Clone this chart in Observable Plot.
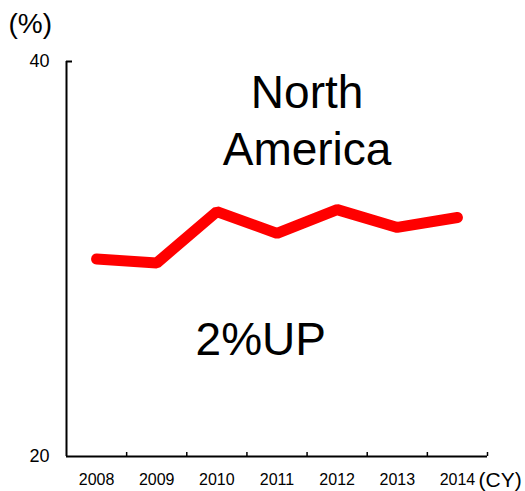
<!DOCTYPE html>
<html>
<head>
<meta charset="utf-8">
<script src="https://cdn.jsdelivr.net/npm/d3@7"></script>
<script src="https://cdn.jsdelivr.net/npm/@observablehq/plot@0.6"></script>
<style>
  html, body { margin: 0; padding: 0; background: #fff; }
  #chart svg { display: block; }
</style>
</head>
<body>
<div id="chart"></div>
<script>
// Calendar years and the regional share (%) for each
const years = [2008, 2009, 2010, 2011, 2012, 2013, 2014];
const share = [30.0, 29.8, 32.4, 31.3, 32.5, 31.6, 32.1];
const yTicks = [20, 40];
const regionLabel = "North\nAmerica";
const changeLabel = "2%UP";
const yUnit = "(%)";
const xUnit = "(CY)";

const rows = years.map((year, i) => ({year, share: share[i]}));
// Category separators sit halfway between the years
const separators = years.map(y => y + 0.5);

const font = "'Liberation Sans', Arial, sans-serif";

const chart = Plot.plot({
  width: 525,
  height: 491,
  marginLeft: 66,
  marginRight: 38,
  marginTop: 61,
  marginBottom: 35,
  style: {fontFamily: font, color: "#000", background: "#fff"},
  x: {domain: [years[0] - 0.5, years[years.length - 1] + 0.5]},
  y: {domain: [yTicks[0], yTicks[1]]},
  marks: [
    // Year labels under the axis
    Plot.axisX({ticks: years, tickFormat: d => String(d), tickSize: 0, tickPadding: 17, fontSize: 16, label: null}),
    // Upward ticks between the years
    Plot.axisX({ticks: separators, tickSize: -4, text: null, label: null, strokeWidth: 1.5}),
    Plot.axisY({ticks: yTicks, tickSize: 0, tickPadding: 17, fontSize: 18, label: null}),
    Plot.axisY({ticks: [yTicks[1]], tickSize: -6, text: null, label: null, strokeWidth: 2}),
    Plot.ruleX([years[0] - 0.5], {strokeWidth: 2}),
    Plot.ruleY([yTicks[0]], {strokeWidth: 2}),
    Plot.line(rows, {
      x: "year", y: "share",
      stroke: "#ff0000", strokeWidth: 11,
      strokeLinecap: "round", strokeLinejoin: "miter"
    }),
    Plot.text([regionLabel], {
      x: 2011.5, y: 39.72, text: d => d,
      fontSize: 46, lineHeight: 1.25, lineAnchor: "top", textAnchor: "middle", fill: "#000"
    }),
    Plot.text([changeLabel], {
      x: 2010.73, y: 26.8, text: d => d,
      fontSize: 46, lineAnchor: "top", textAnchor: "middle", fill: "#000"
    }),
    Plot.text([yUnit], {
      frameAnchor: "top-left", text: d => d, dx: -58, dy: -37,
      fontSize: 28, textAnchor: "start", lineAnchor: "middle", fill: "#000"
    }),
    Plot.text([xUnit], {
      frameAnchor: "bottom-right", text: d => d, dx: -9, dy: 24,
      fontSize: 21, textAnchor: "start", lineAnchor: "middle", fill: "#000"
    })
  ]
});

document.getElementById("chart").appendChild(chart);
</script>
</body>
</html>
